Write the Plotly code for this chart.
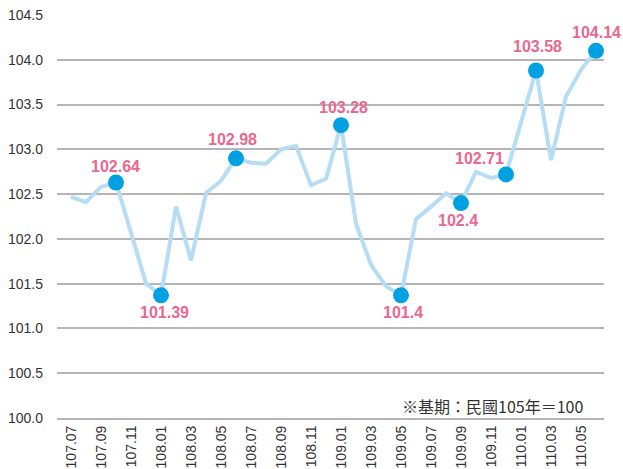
import plotly.graph_objects as go

# Months 107.07 .. 110.06 (ROC calendar)
months = ["107.07", "107.08", "107.09", "107.10", "107.11", "107.12",
          "108.01", "108.02", "108.03", "108.04", "108.05", "108.06",
          "108.07", "108.08", "108.09", "108.10", "108.11", "108.12",
          "109.01", "109.02", "109.03", "109.04", "109.05", "109.06",
          "109.07", "109.08", "109.09", "109.10", "109.11", "109.12",
          "110.01", "110.02", "110.03", "110.04", "110.05", "110.06"]
values = [102.47, 102.41, 102.58, 102.63, 102.07, 101.50,
          101.37, 102.36, 101.76, 102.51, 102.65, 102.90,
          102.85, 102.84, 103.00, 103.04, 102.60, 102.67,
          103.27, 102.17, 101.71, 101.47, 101.37, 102.22,
          102.36, 102.51, 102.40, 102.75, 102.68, 102.72,
          103.30, 103.88, 102.88, 103.59, 103.89, 104.10]
highlight_idx = [3, 6, 11, 18, 22, 26, 29, 31, 35]
highlight_text = ["102.64", "101.39", "102.98", "103.28", "101.4",
                  "102.4", "102.71", "103.58", "104.14"]
tick_labels = months[::2]
y_ticks = [100.0, 100.5, 101.0, 101.5, 102.0, 102.5, 103.0, 103.5, 104.0, 104.5]
note = "※基期：民國105年＝100"

# label offsets (px) relative to marker: (xshift, yshift)
label_shift = [(-1, 16), (3, -17), (-4, 19), (2, 18), (2, -17),
               (-3, -17), (-27, 16), (1, 24), (0, 18)]

x = list(range(len(months)))

fig = go.Figure()
fig.add_trace(go.Scatter(
    x=x, y=values, mode="lines",
    line=dict(color="#B6DDF4", width=4),
    hoverinfo="skip", showlegend=False))
fig.add_trace(go.Scatter(
    x=[x[i] for i in highlight_idx], y=[values[i] for i in highlight_idx],
    mode="markers",
    marker=dict(color="#00A0E2", size=16, line=dict(width=0)),
    showlegend=False, cliponaxis=False))

for (i, t), (dx, dy) in zip(zip(highlight_idx, highlight_text), label_shift):
    fig.add_annotation(x=x[i], y=values[i], text=t, showarrow=False,
                       xshift=dx, yshift=dy,
                       font=dict(family="Liberation Sans, Arial", size=16,
                                 color="#EA6790", weight="bold"))

fig.add_annotation(xref="paper", yref="paper", x=0.965, y=0.0, yshift=12,
                   xanchor="right", yanchor="middle", text=note, showarrow=False,
                   font=dict(family="Noto Sans CJK TC", size=16, color="#333333"))

fig.update_layout(
    width=623, height=469,
    margin=dict(l=57, r=19, t=15, b=51, autoexpand=False),
    paper_bgcolor="white", plot_bgcolor="white",
    font=dict(family="Liberation Sans, Arial", size=14, color="#333333"),
)
fig.update_xaxes(
    range=[-0.933, 35.533], tickmode="array",
    tickvals=x[::2], ticktext=tick_labels, tickangle=-90,
    showgrid=False, zeroline=False, showline=True, automargin=False,
    linecolor="#B5B5B5", linewidth=2, ticks="", ticklen=0, ticklabelstandoff=0,
    tickfont=dict(size=14, color="#333333"))
fig.update_yaxes(
    range=[100, 104.5], tickmode="array", tickvals=y_ticks,
    ticktext=[f"{v:.1f}" for v in y_ticks], automargin=False,
    showgrid=True, gridcolor="#B5B5B5", gridwidth=1.5,
    zeroline=False, showline=False, ticks="", ticklabelstandoff=13,
    tickfont=dict(size=14, color="#333333"))

fig.write_html("out.html", config={"displayModeBar": False},
               post_script="document.body.style.margin='0';")
